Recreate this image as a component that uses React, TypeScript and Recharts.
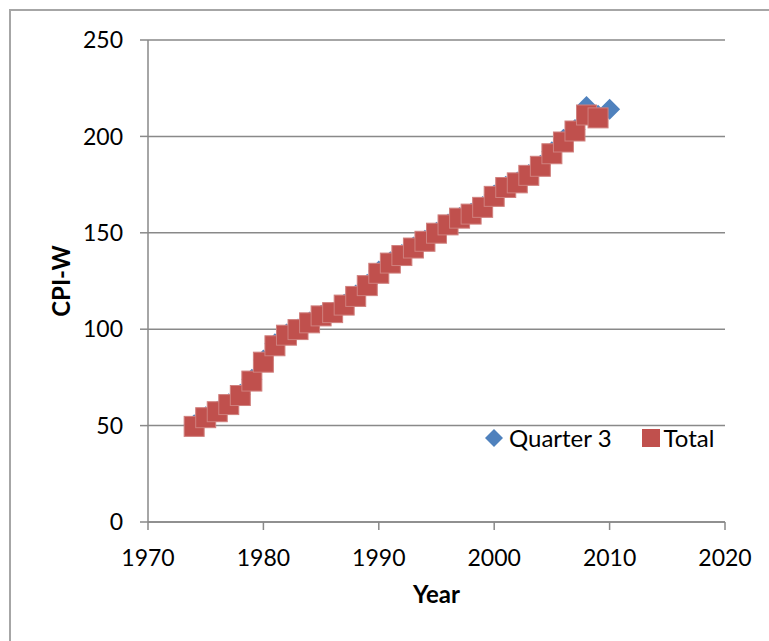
import React from 'react';
import { ScatterChart, Scatter, XAxis, YAxis, CartesianGrid, Legend } from 'recharts';

// CPI-W, annual average ("Total") and third-quarter average, 1982-84 = 100
const totalYears = [
  1974, 1975, 1976, 1977, 1978, 1979, 1980, 1981, 1982, 1983, 1984, 1985,
  1986, 1987, 1988, 1989, 1990, 1991, 1992, 1993, 1994, 1995, 1996, 1997,
  1998, 1999, 2000, 2001, 2002, 2003, 2004, 2005, 2006, 2007, 2008, 2009,
];
const totalCpi = [
  49.6, 54.1, 57.2, 60.9, 65.6, 73.1, 82.9, 91.4, 96.9, 99.8, 103.3, 106.9,
  108.6, 112.5, 117.0, 122.6, 129.0, 134.3, 138.2, 142.1, 145.6, 149.8, 154.1, 157.6,
  159.7, 163.2, 168.9, 173.5, 175.9, 179.8, 184.5, 191.0, 197.1, 202.8, 211.1, 209.6,
];

const q3Years = [
  1974, 1975, 1976, 1977, 1978, 1979, 1980, 1981, 1982, 1983, 1984, 1985,
  1986, 1987, 1988, 1989, 1990, 1991, 1992, 1993, 1994, 1995, 1996, 1997,
  1998, 1999, 2000, 2001, 2002, 2003, 2004, 2005, 2006, 2007, 2008, 2009, 2010,
];
const q3Cpi = [
  50.4, 54.6, 57.5, 61.3, 66.2, 74.1, 84.0, 92.5, 97.5, 100.1, 103.7, 107.2,
  108.7, 113.0, 117.7, 123.3, 130.2, 135.0, 138.8, 142.6, 146.2, 150.3, 154.6, 158.0,
  160.1, 163.7, 169.6, 174.1, 176.3, 180.3, 185.1, 192.0, 198.5, 203.6, 215.5, 211.0, 214.1,
];

const xTicks = [1970, 1980, 1990, 2000, 2010, 2020];
const yTicks = [0, 50, 100, 150, 200, 250];

const totalData = totalYears.map((year, i) => ({ year, cpi: totalCpi[i] }));
const q3Data = q3Years.map((year, i) => ({ year, cpi: q3Cpi[i] }));

const FONT = 'Lato, "Open Sans", sans-serif';
const GRID = '#898989';
const BLUE = '#4F81BD';
const RED = '#C0504D';

const DiamondShape = (props: any) => {
  const { cx, cy } = props;
  const r = 10.5;
  return <path d={`M${cx},${cy - r}L${cx + r},${cy}L${cx},${cy + r}L${cx - r},${cy}Z`} fill={BLUE} />;
};

const SquareShape = (props: any) => {
  const { cx, cy } = props;
  return <rect x={cx - 10} y={cy - 10} width={20} height={20} fill={RED} stroke="#D0807E" strokeWidth={1} />;
};

const renderLegend = () => (
  <div style={{ display: 'flex', alignItems: 'center', fontFamily: FONT, fontSize: 24, lineHeight: '28px', color: '#000', whiteSpace: 'nowrap' }}>
    <svg width={18} height={18} style={{ marginRight: 6 }}>
      <path d="M9,0L18,9L9,18L0,9Z" fill={BLUE} />
    </svg>
    <span>Quarter 3</span>
    <svg width={18} height={18} style={{ marginLeft: 30, marginRight: 4 }}>
      <rect x={0} y={0} width={18} height={18} fill={RED} />
    </svg>
    <span>Total</span>
  </div>
);

export default function App() {
  return (
    <div style={{ position: 'absolute', left: 0, top: 0, width: 769, height: 641, overflow: 'hidden', background: '#fff' }}>
      <div style={{ position: 'absolute', left: 9, top: 9, width: 800, height: 700, border: '2px solid #a6a6a6', boxSizing: 'border-box' }} />
      <div style={{ position: 'absolute', left: 0, top: 0 }}>
        <ScatterChart width={769} height={641} margin={{ top: 40, right: 44, bottom: 29, left: 0 }}>
          <CartesianGrid vertical={false} stroke={GRID} strokeWidth={1.5} strokeDasharray="" />
          <XAxis
            type="number"
            dataKey="year"
            domain={[1970, 2020]}
            ticks={xTicks}
            interval={0}
            height={90}
            tickSize={8}
            tickMargin={20}
            axisLine={{ stroke: GRID, strokeWidth: 1.5 }}
            tickLine={{ stroke: GRID, strokeWidth: 1.5 }}
            tick={{ fill: '#000', fontSize: 23, fontFamily: FONT }}
            label={{ value: 'Year', position: 'insideBottom', offset: 9, style: { fontFamily: FONT, fontSize: 24, fontWeight: 700, fill: '#000' } }}
          />
          <YAxis
            type="number"
            dataKey="cpi"
            domain={[0, 250]}
            ticks={yTicks}
            interval={0}
            width={148}
            tickSize={8}
            tickMargin={17}
            axisLine={{ stroke: GRID, strokeWidth: 1.5 }}
            tickLine={{ stroke: GRID, strokeWidth: 1.5 }}
            tick={{ fill: '#000', fontSize: 23, fontFamily: FONT }}
            label={{ value: 'CPI-W', angle: -90, position: 'insideLeft', offset: 61, style: { textAnchor: 'middle', fontFamily: FONT, fontSize: 24, fontWeight: 700, fill: '#000' } }}
          />
          <Legend
            layout="vertical"
            align="center"
            verticalAlign="middle"
            content={renderLegend}
            wrapperStyle={{ position: 'absolute', left: 485, top: 424, width: 260, height: 28 }}
          />
          <Scatter name="Quarter 3" data={q3Data} fill={BLUE} shape={DiamondShape} isAnimationActive={false} />
          <Scatter name="Total" data={totalData} fill={RED} shape={SquareShape} isAnimationActive={false} />
        </ScatterChart>
      </div>
    </div>
  );
}
